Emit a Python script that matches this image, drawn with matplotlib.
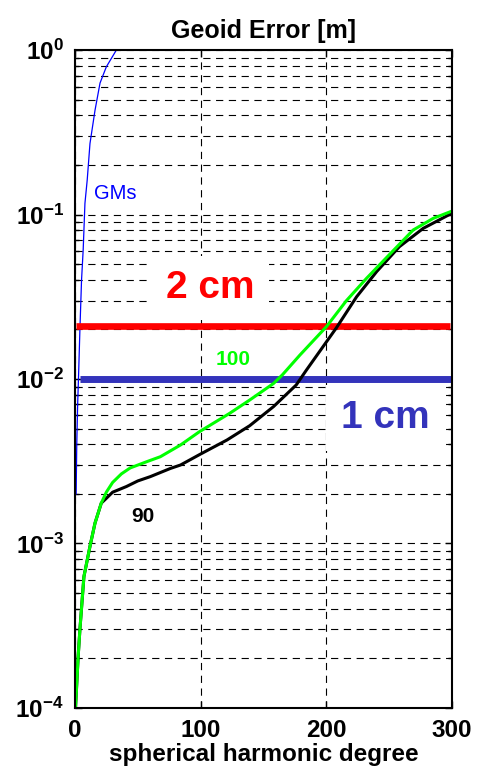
import numpy as np
import matplotlib
matplotlib.use("Agg")
import matplotlib.pyplot as plt
from matplotlib.ticker import LogLocator, FixedLocator, NullFormatter, FuncFormatter

plt.rcParams['font.family'] = ['Liberation Sans', 'DejaVu Sans']
plt.rcParams['font.weight'] = 'bold'
plt.rcParams['mathtext.fontset'] = 'custom'
plt.rcParams['mathtext.rm'] = 'Liberation Sans:bold'
plt.rcParams['mathtext.bf'] = 'Liberation Sans:bold'
plt.rcParams['mathtext.default'] = 'bf'

# degree 90 solution (black)
deg_90 = [0.5, 2.6, 4, 7.2, 12, 16, 21, 24, 30, 41, 50, 60, 76, 84, 100, 121,
          139, 158, 176, 184, 208, 224, 240, 258, 277, 300]
err_90 = [1.0e-4, 2.05e-4, 3.0e-4, 6.3e-4, 9.6e-4, 1.33e-3, 1.76e-3, 1.85e-3,
          2.05e-3, 2.22e-3, 2.4e-3, 2.55e-3, 2.86e-3, 3.0e-3, 3.5e-3, 4.26e-3,
          5.2e-3, 6.8e-3, 9.2e-3, 1.13e-2, 2.05e-2, 3.16e-2, 4.5e-2, 6.37e-2,
          8.24e-2, 1.02e-1]

# degree 100 solution (green)
deg_100 = [0.5, 2.6, 4, 7.2, 12, 16, 21, 25, 30, 37, 44, 57, 68, 84, 99, 123,
           139, 158, 165, 179, 200, 216, 232, 251, 269, 285, 300]
err_100 = [1.0e-4, 2.05e-4, 3.0e-4, 6.3e-4, 9.6e-4, 1.33e-3, 1.76e-3, 2.05e-3,
           2.35e-3, 2.65e-3, 2.88e-3, 3.14e-3, 3.37e-3, 3.97e-3, 4.78e-3,
           6.18e-3, 7.45e-3, 9.4e-3, 1.06e-2, 1.4e-2, 2.08e-2, 3.0e-2, 4.1e-2,
           5.8e-2, 8.05e-2, 9.48e-2, 1.05e-1]

# GMs curve (blue)
deg_gms = [1.0, 1.5, 2.2, 2.9, 4.0, 5.3, 6.6, 8.0, 9.8, 12, 16, 20, 25, 33]
err_gms = [2.0e-3, 4.0e-3, 7.0e-3, 1.03e-2, 2.0e-2, 4.0e-2, 6.1e-2, 1.17e-1,
           1.62e-1, 2.7e-1, 4.3e-1, 6.3e-1, 7.9e-1, 1.0]

# reference levels
lvl_2cm_x = [1, 298]
lvl_2cm_y = [0.021, 0.021]
lvl_1cm_x = [4, 300]
lvl_1cm_y = [0.01, 0.01]

red = '#ff0000'
blue_lvl = '#3333bb'
green = '#00ff00'

fig = plt.figure(figsize=(4.8, 7.78), dpi=100)
ax = fig.add_axes([0.156, 0.090, 0.786, 0.8457])
ax.set_yscale('log')
ax.set_xlim(0, 300)
ax.set_ylim(1e-4, 1)

ax.plot(deg_gms, err_gms, color='#0000ff', lw=0.9, zorder=3)
ax.plot(lvl_2cm_x, lvl_2cm_y, color=red, lw=4.8, solid_capstyle='butt', zorder=4)
ax.plot(lvl_1cm_x, lvl_1cm_y, color=blue_lvl, lw=5.0, solid_capstyle='butt', zorder=4)
ax.plot(deg_90, err_90, color='k', lw=2.2, zorder=5)
ax.plot(deg_100, err_100, color=green, lw=2.2, zorder=6)

ax.text(32.2, 0.135, 'GMs', color='#0000ff', fontsize=14.5, fontweight='normal',
        ha='center', va='center')
ax.text(108, 0.0357, '2 cm', color=red, fontsize=28, ha='center', va='center',
        bbox=dict(facecolor='white', edgecolor='none', pad=10), zorder=3)
ax.text(247, 0.0058, '1 cm', color=blue_lvl, fontsize=28, ha='center', va='center',
        bbox=dict(facecolor='white', edgecolor='none', pad=11), zorder=3)
ax.text(125.7, 0.0131, '100', color=green, fontsize=15, ha='center', va='center', zorder=7)
ax.text(53.7, 0.00146, '90', color='k', fontsize=15, ha='center', va='center', zorder=7)

ax.xaxis.set_major_locator(FixedLocator([0, 100, 200, 300]))
ax.yaxis.set_major_locator(LogLocator(base=10, numticks=10))
ax.yaxis.set_minor_locator(LogLocator(base=10, subs=np.arange(2, 10), numticks=20))
ax.yaxis.set_minor_formatter(NullFormatter())
ax.yaxis.set_major_formatter(FuncFormatter(lambda v, p: r'$10^{%d}$' % round(np.log10(v))))

ax.grid(True, which='major', color='k', ls=(0, (6.5, 5)), lw=0.8)
ax.grid(True, which='minor', axis='y', color='k', ls=(0, (6.5, 5)), lw=0.8)
ax.set_axisbelow(True)

ax.tick_params(which='both', direction='in', top=True, right=True)
ax.tick_params(which='major', length=5, width=1, labelsize=17.5, pad=8)
ax.tick_params(which='minor', length=3, width=1)
for s in ax.spines.values():
    s.set_linewidth(1.5)
    s.set_zorder(8)

ax.set_title('Geoid Error [m]', fontsize=18, fontweight='bold', pad=9)
ax.set_xlabel('spherical harmonic degree', fontsize=17.5, fontweight='bold', labelpad=1)

fig.savefig('out.png', dpi=100)
